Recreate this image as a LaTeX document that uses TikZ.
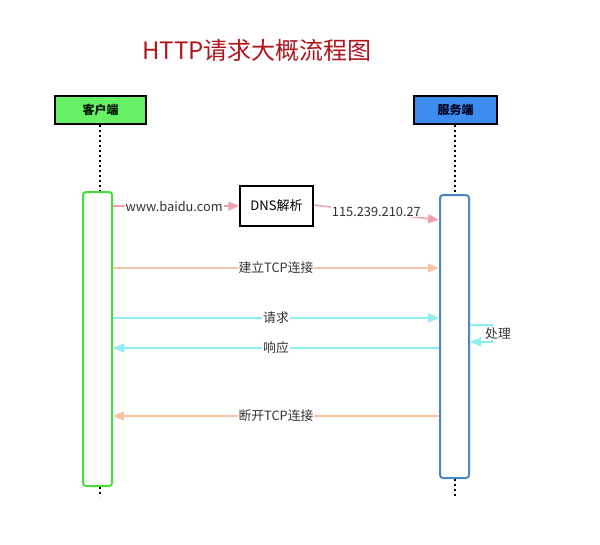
\documentclass[tikz,border=0pt]{standalone}
\usepackage{fontspec}
\setmainfont{Noto Sans CJK SC}
\usetikzlibrary{positioning,calc,arrows.meta}
\definecolor{titlered}{RGB}{176,20,28}
\definecolor{cgreen}{RGB}{102,240,102}
\definecolor{sblue}{RGB}{60,140,240}
\definecolor{cline}{RGB}{70,220,60}
\definecolor{sline}{RGB}{74,134,200}
\definecolor{dnspink}{RGB}{240,160,170}
\definecolor{tcppeach}{RGB}{245,196,164}
\definecolor{reqcyan}{RGB}{140,238,240}
\tikzstyle{edge} = [-{Triangle[length=11pt,width=9pt]}, line width=1.5pt]
\tikzstyle{lbl} = [fill=white, inner sep=1pt, text=black!80, font=\fontsize{12.8}{14}\selectfont]
\tikzstyle{actor} = [draw=black, line width=1.8pt, minimum width=91pt, minimum height=28pt, font=\bfseries\fontsize{12}{13}\selectfont]
\tikzstyle{act} = [draw, line width=2pt, rounded corners=3pt, fill=white, minimum width=29pt]
\tikzstyle{life} = [line width=2pt, dash pattern=on 2pt off 3pt]

\begin{document}
\begin{tikzpicture}[x=1pt, y=-1pt]
\useasboundingbox (0,0) rectangle (600,544);
	\node[text=titlered, font=\fontsize{24}{26}\selectfont] (title) at (257, 50) {HTTP请求大概流程图};

	\node[actor, fill=cgreen, text=black!75!green!40!black] (cbox) at (100.5, 110) {客户端};
	\node[actor, fill=sblue, minimum width=83pt, text=black!70!blue!40!black] (sbox) at (455.5, 110) {服务端};

	\node[act, draw=cline, minimum height=294pt] (cact) at (97.5, 339) {};
	\node[act, draw=sline, minimum height=283pt] (sact) at (454.5, 336.5) {};

	\node[draw=black, line width=1.5pt, minimum width=73pt, minimum height=40pt, font=\fontsize{13}{14}\selectfont] (dns) at (276.5, 206) {DNS解析};

	% lifelines
	\coordinate (cend) at (100, 497);
	\coordinate (send) at (455, 497);
	\draw[life] (cbox.south -| 100,0) -- (cact.north -| 100,0);
	\draw[life] (cact.south -| 100,0) -- (cend);
	\draw[life] (sbox.south -| 455,0) -- (sact.north -| 455,0);
	\draw[life] (sact.south -| 455,0) -- (send);

	% rows
	\coordinate (ip) at (0, 220);
	\coordinate (tcp) at (0, 268);
	\coordinate (req) at (0, 318);
	\coordinate (res) at (0, 348);
	\coordinate (fin) at (0, 416);
	\coordinate (loopa) at (492, 325);
	\coordinate (loopb) at (492, 342);

	\draw[edge, dnspink] (cact.east |- dns) to node[lbl, xshift=-2pt] {www.baidu.com} (dns.west);
	\draw[edge, dnspink] ($(dns.east)+(0,-1)$) to node[lbl, pos=0.5, yshift=1pt] {115.239.210.27} (sact.west |- ip);
	\draw[edge, tcppeach] (cact.east |- tcp) to node[lbl] {建立TCP连接} (sact.west |- tcp);
	\draw[edge, reqcyan] (cact.east |- req) to node[lbl] {请求} (sact.west |- req);
	\draw[edge, reqcyan] (sact.east |- loopa) -- (loopa) -- node[lbl, xshift=6pt] {处理} (loopb) -- (sact.east |- loopb);
	\draw[edge, reqcyan] (sact.west |- res) to node[lbl] {响应} (cact.east |- res);
	\draw[edge, tcppeach] (sact.west |- fin) to node[lbl] {断开TCP连接} (cact.east |- fin);
\end{tikzpicture}
\end{document}
